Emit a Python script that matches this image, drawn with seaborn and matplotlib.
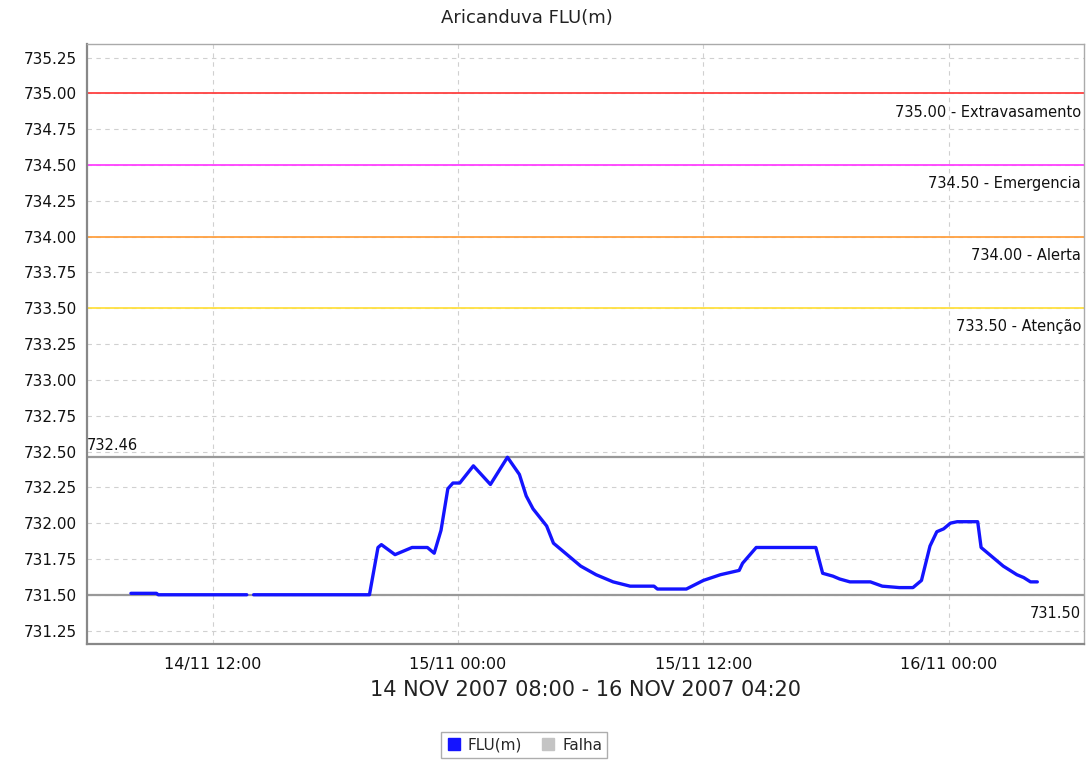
import pandas as pd
import numpy as np
import seaborn as sns
import matplotlib.pyplot as plt
import matplotlib.dates as mdates
from matplotlib.lines import Line2D
from matplotlib.ticker import MultipleLocator, FormatStrFormatter

# ========== dados ==========
TIMES = ['2007-11-14 08:00', '2007-11-14 09:15', '2007-11-14 09:20', '2007-11-14 13:40',
         '2007-11-14 14:00', '2007-11-14 19:40', '2007-11-14 20:05', '2007-11-14 20:15',
         '2007-11-14 20:55', '2007-11-14 21:45', '2007-11-14 22:30', '2007-11-14 22:50',
         '2007-11-14 23:10', '2007-11-14 23:30', '2007-11-14 23:45', '2007-11-15 00:05',
         '2007-11-15 00:45', '2007-11-15 01:35', '2007-11-15 02:25', '2007-11-15 03:00',
         '2007-11-15 03:20', '2007-11-15 03:40', '2007-11-15 04:20', '2007-11-15 04:40',
         '2007-11-15 05:20', '2007-11-15 06:00', '2007-11-15 06:45', '2007-11-15 07:35',
         '2007-11-15 08:25', '2007-11-15 09:35', '2007-11-15 09:45', '2007-11-15 11:10',
         '2007-11-15 12:00', '2007-11-15 12:50', '2007-11-15 13:45', '2007-11-15 13:55',
         '2007-11-15 14:35', '2007-11-15 17:30', '2007-11-15 17:50', '2007-11-15 18:20',
         '2007-11-15 18:40', '2007-11-15 19:10', '2007-11-15 20:10', '2007-11-15 20:45',
         '2007-11-15 21:35', '2007-11-15 22:15', '2007-11-15 22:40', '2007-11-15 23:05',
         '2007-11-15 23:25', '2007-11-15 23:45', '2007-11-16 00:05', '2007-11-16 00:25',
         '2007-11-16 01:25', '2007-11-16 01:35', '2007-11-16 02:10', '2007-11-16 02:40',
         '2007-11-16 03:20', '2007-11-16 03:40', '2007-11-16 04:00', '2007-11-16 04:20']
FLU = [731.51, 731.51, 731.50, 731.50,
       731.50, 731.50, 731.83, 731.85,
       731.78, 731.83, 731.83, 731.79,
       731.95, 732.24, 732.28, 732.28,
       732.40, 732.27, 732.46, 732.34,
       732.19, 732.10, 731.98, 731.86,
       731.78, 731.70, 731.64, 731.59,
       731.56, 731.56, 731.54, 731.54,
       731.60, 731.64, 731.67, 731.72,
       731.83, 731.83, 731.65, 731.63,
       731.61, 731.59, 731.59, 731.56,
       731.55, 731.55, 731.60, 731.84,
       731.94, 731.96, 732.00, 732.01,
       732.01, 731.83, 731.76, 731.70,
       731.64, 731.62, 731.59, 731.59]
# trecho (falha curta entre 13:40 e 14:00)
SEGMENT = [0] * 4 + [1] * (len(TIMES) - 4)

LEVELS = [735.00, 734.50, 734.00, 733.50]
LEVEL_NAMES = ['Extravasamento', 'Emergencia', 'Alerta', 'Atenção']
LEVEL_COLORS = ['#ff4040', '#ff40ff', '#ffa040', '#ffe040']
MAX_VAL = 732.46
MIN_VAL = 731.50
# ===========================

df = pd.DataFrame({'time': pd.to_datetime(TIMES), 'flu': FLU, 'seg': SEGMENT})

sns.set_style('white')
plt.rcParams['font.family'] = ['DejaVu Sans']

fig = plt.figure(figsize=(10.9, 7.61), dpi=100)
ax = fig.add_axes([0.0798, 0.1537, 0.9147, 0.7885])

ax.grid(True, color='#d0d0d0', linestyle=(0, (4, 4)), linewidth=0.8)

for lv, name, col in zip(LEVELS, LEVEL_NAMES, LEVEL_COLORS):
    ax.axhline(lv, color=col, linewidth=1.3, zorder=2)
    ax.annotate(f'{lv:.2f} - {name}', xy=(1, lv), xycoords=('axes fraction', 'data'),
                xytext=(-2, -8), textcoords='offset points', ha='right', va='top',
                fontsize=10.5, color='#111111')

ax.axhline(MAX_VAL, color='#999999', linewidth=1.6, zorder=2)
ax.annotate(f'{MAX_VAL:.2f}', xy=(0, MAX_VAL), xycoords=('axes fraction', 'data'),
            xytext=(0, 3), textcoords='offset points', ha='left', va='bottom',
            fontsize=10.5, color='#111111')
ax.axhline(MIN_VAL, color='#999999', linewidth=1.6, zorder=2)
ax.annotate(f'{MIN_VAL:.2f}', xy=(1, MIN_VAL), xycoords=('axes fraction', 'data'),
            xytext=(-2, -8), textcoords='offset points', ha='right', va='top',
            fontsize=10.5, color='#111111')

sns.lineplot(data=df, x='time', y='flu', units='seg', estimator=None,
             color='#1414ff', linewidth=2.4, ax=ax, zorder=3)

ax.set_xlim(pd.Timestamp('2007-11-14 05:51'), pd.Timestamp('2007-11-16 06:37'))
ax.set_ylim(731.156, 735.345)
ax.yaxis.set_major_locator(MultipleLocator(0.25))
ax.yaxis.set_major_formatter(FormatStrFormatter('%.2f'))
ax.xaxis.set_major_locator(mdates.HourLocator(byhour=[0, 12]))
ax.xaxis.set_major_formatter(mdates.DateFormatter('%d/%m %H:%M'))

ax.tick_params(axis='both', direction='out', length=3, width=0.8, color='#888888',
               labelsize=11, labelcolor='#111111', pad=4)
ax.tick_params(axis='x', labelsize=11.5, pad=6)

for s in ax.spines.values():
    s.set_color('#aaaaaa')
    s.set_linewidth(1.0)
ax.spines['left'].set_color('#888888')
ax.spines['left'].set_linewidth(1.6)
ax.spines['bottom'].set_color('#888888')
ax.spines['bottom'].set_linewidth(1.6)

fig.text(0.483, 0.976, 'Aricanduva FLU(m)', fontsize=13, color='#222222',
         ha='center', va='center')
ax.set_xlabel('14 NOV 2007 08:00 - 16 NOV 2007 04:20', fontsize=15, color='#222222', labelpad=6)
ax.set_ylabel('')

handles = [Line2D([], [], marker='s', linestyle='none', markersize=9, color='#1414ff'),
           Line2D([], [], marker='s', linestyle='none', markersize=9, color='#c4c4c4')]
leg = fig.legend(handles, ['FLU(m)', 'Falha'], loc='center', bbox_to_anchor=(0.481, 0.021),
                 ncol=2, frameon=True, fancybox=False, fontsize=11, handlelength=1,
                 handletextpad=0.4, columnspacing=1.2, borderpad=0.35)
leg.get_frame().set_edgecolor('#999999')
leg.get_frame().set_linewidth(1.0)

fig.savefig('out.png', dpi=100)
